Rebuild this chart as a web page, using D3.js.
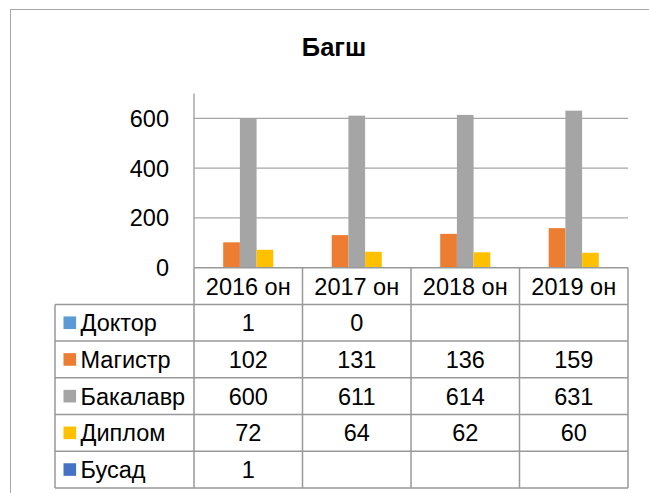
<!DOCTYPE html>
<html>
<head>
<meta charset="utf-8">
<script src="https://cdn.jsdelivr.net/npm/d3@7"></script>
<style>
  body { margin: 0; background: #fff; }
  text { font-family: "Liberation Sans", Arial, sans-serif; fill: #000; }
</style>
</head>
<body>
<div id="chart"></div>
<script>
// data
const years = ["2016 он", "2017 он", "2018 он", "2019 он"];
const seriesNames = ["Доктор", "Магистр", "Бакалавр", "Диплом", "Бусад"];
const seriesColors = ["#5B9BD5", "#ED7D31", "#A5A5A5", "#FFC000", "#4472C4"];
const doktor = [1, 0, null, null];
const magistr = [102, 131, 136, 159];
const bakalavr = [600, 611, 614, 631];
const diplom = [72, 64, 62, 60];
const busad = [1, null, null, null];
const yTicks = [0, 200, 400, 600];

const allValues = [doktor, magistr, bakalavr, diplom, busad];

const width = 649, height = 493;
const svg = d3.select("#chart").append("svg")
    .attr("width", width)
    .attr("height", height);

// chart frame (cut by the picture at the right and bottom)
svg.append("path")
    .attr("d", "M10.5,500 L10.5,9.5 L660,9.5")
    .attr("fill", "none")
    .attr("stroke", "#a6a6a6")
    .attr("stroke-width", 1);

svg.append("text")
    .attr("x", 334).attr("y", 56)
    .attr("text-anchor", "middle")
    .attr("font-size", 25.5)
    .attr("font-weight", "bold")
    .text("Багш");

let plotLeft = 194, plotRight = 628, plotTop = 93.5, plotBottom = 267.7;
let x = d3.scaleBand().domain(years).range([plotLeft, plotRight]);
let y = d3.scaleLinear().domain([0, 700]).range([plotBottom, plotTop]);
// Excel gap width 150%: 5 bars + 1.5 bar of gap
let barW = x.bandwidth() / 6.5;

// gridlines
svg.append("g").selectAll("line")
    .data(yTicks.filter(d => d > 0))
    .enter().append("line")
    .attr("x1", plotLeft).attr("x2", plotRight)
    .attr("y1", d => y(d)).attr("y2", d => y(d))
    .attr("stroke", "#a6a6a6").attr("stroke-width", 1.2);

// y labels
svg.append("g").selectAll("text")
    .data(yTicks)
    .enter().append("text")
    .attr("x", 169).attr("y", d => y(d))
    .attr("dy", "0.36em")
    .attr("text-anchor", "end")
    .attr("font-size", 23.5)
    .text(d => d);

// bars
seriesNames.forEach((name, si) => {
    svg.append("g").selectAll("rect")
        .data(allValues[si].map((v, i) => ({ year: years[i], v })).filter(d => d.v != null))
        .enter().append("rect")
        .attr("x", d => x(d.year) + barW * 0.75 + si * barW)
        .attr("y", d => y(d.v))
        .attr("width", barW)
        .attr("height", d => plotBottom - y(d.v))
        .attr("fill", seriesColors[si]);
});

// data table
const border = "#999999";
let tableLeft = 55;
let rowH = 36.7;
let rows = d3.scaleBand().domain(seriesNames)
    .range([plotBottom + rowH, plotBottom + rowH * 6]);

// header row
svg.append("g").selectAll("text")
    .data(years)
    .enter().append("text")
    .attr("x", d => x(d) + x.bandwidth() / 2)
    .attr("y", plotBottom + rowH / 2)
    .attr("dy", "0.36em")
    .attr("text-anchor", "middle")
    .attr("font-size", 23.5)
    .text(d => d);

// row labels with keys
seriesNames.forEach((name, si) => {
    let cy = rows(name) + rows.bandwidth() / 2;
    svg.append("rect")
        .attr("x", 63.5).attr("y", cy - 6.3)
        .attr("width", 12.6).attr("height", 12.6)
        .attr("fill", seriesColors[si]);
    svg.append("text")
        .attr("x", 80.5).attr("y", cy)
        .attr("dy", "0.36em")
        .attr("font-size", 23.5)
        .text(name);
    svg.append("g").selectAll("text")
        .data(allValues[si].map((v, i) => ({ year: years[i], v })).filter(d => d.v != null))
        .enter().append("text")
        .attr("x", d => x(d.year) + x.bandwidth() / 2)
        .attr("y", cy)
        .attr("dy", "0.36em")
        .attr("text-anchor", "middle")
        .attr("font-size", 23.5)
        .text(d => d.v);
});

// table lines
let g = svg.append("g").attr("stroke", border).attr("stroke-width", 1.5);
g.append("line")
    .attr("x1", plotLeft).attr("x2", plotRight)
    .attr("y1", plotBottom).attr("y2", plotBottom);
g.selectAll(".hl")
    .data(seriesNames.map(n => rows(n)).concat([rows(seriesNames[4]) + rows.bandwidth()]))
    .enter().append("line")
    .attr("x1", tableLeft).attr("x2", plotRight)
    .attr("y1", d => d).attr("y2", d => d);
g.selectAll(".vl")
    .data(years.map(d => x(d)).concat([plotRight]))
    .enter().append("line")
    .attr("x1", d => d).attr("x2", d => d)
    .attr("y1", plotBottom).attr("y2", plotBottom + rowH * 6);
g.append("line")
    .attr("x1", tableLeft).attr("x2", tableLeft)
    .attr("y1", plotBottom + rowH).attr("y2", plotBottom + rowH * 6);
// value axis line
g.append("line")
    .attr("x1", plotLeft).attr("x2", plotLeft)
    .attr("y1", plotTop).attr("y2", plotBottom)
    .attr("stroke", "#a6a6a6");
</script>
</body>
</html>
